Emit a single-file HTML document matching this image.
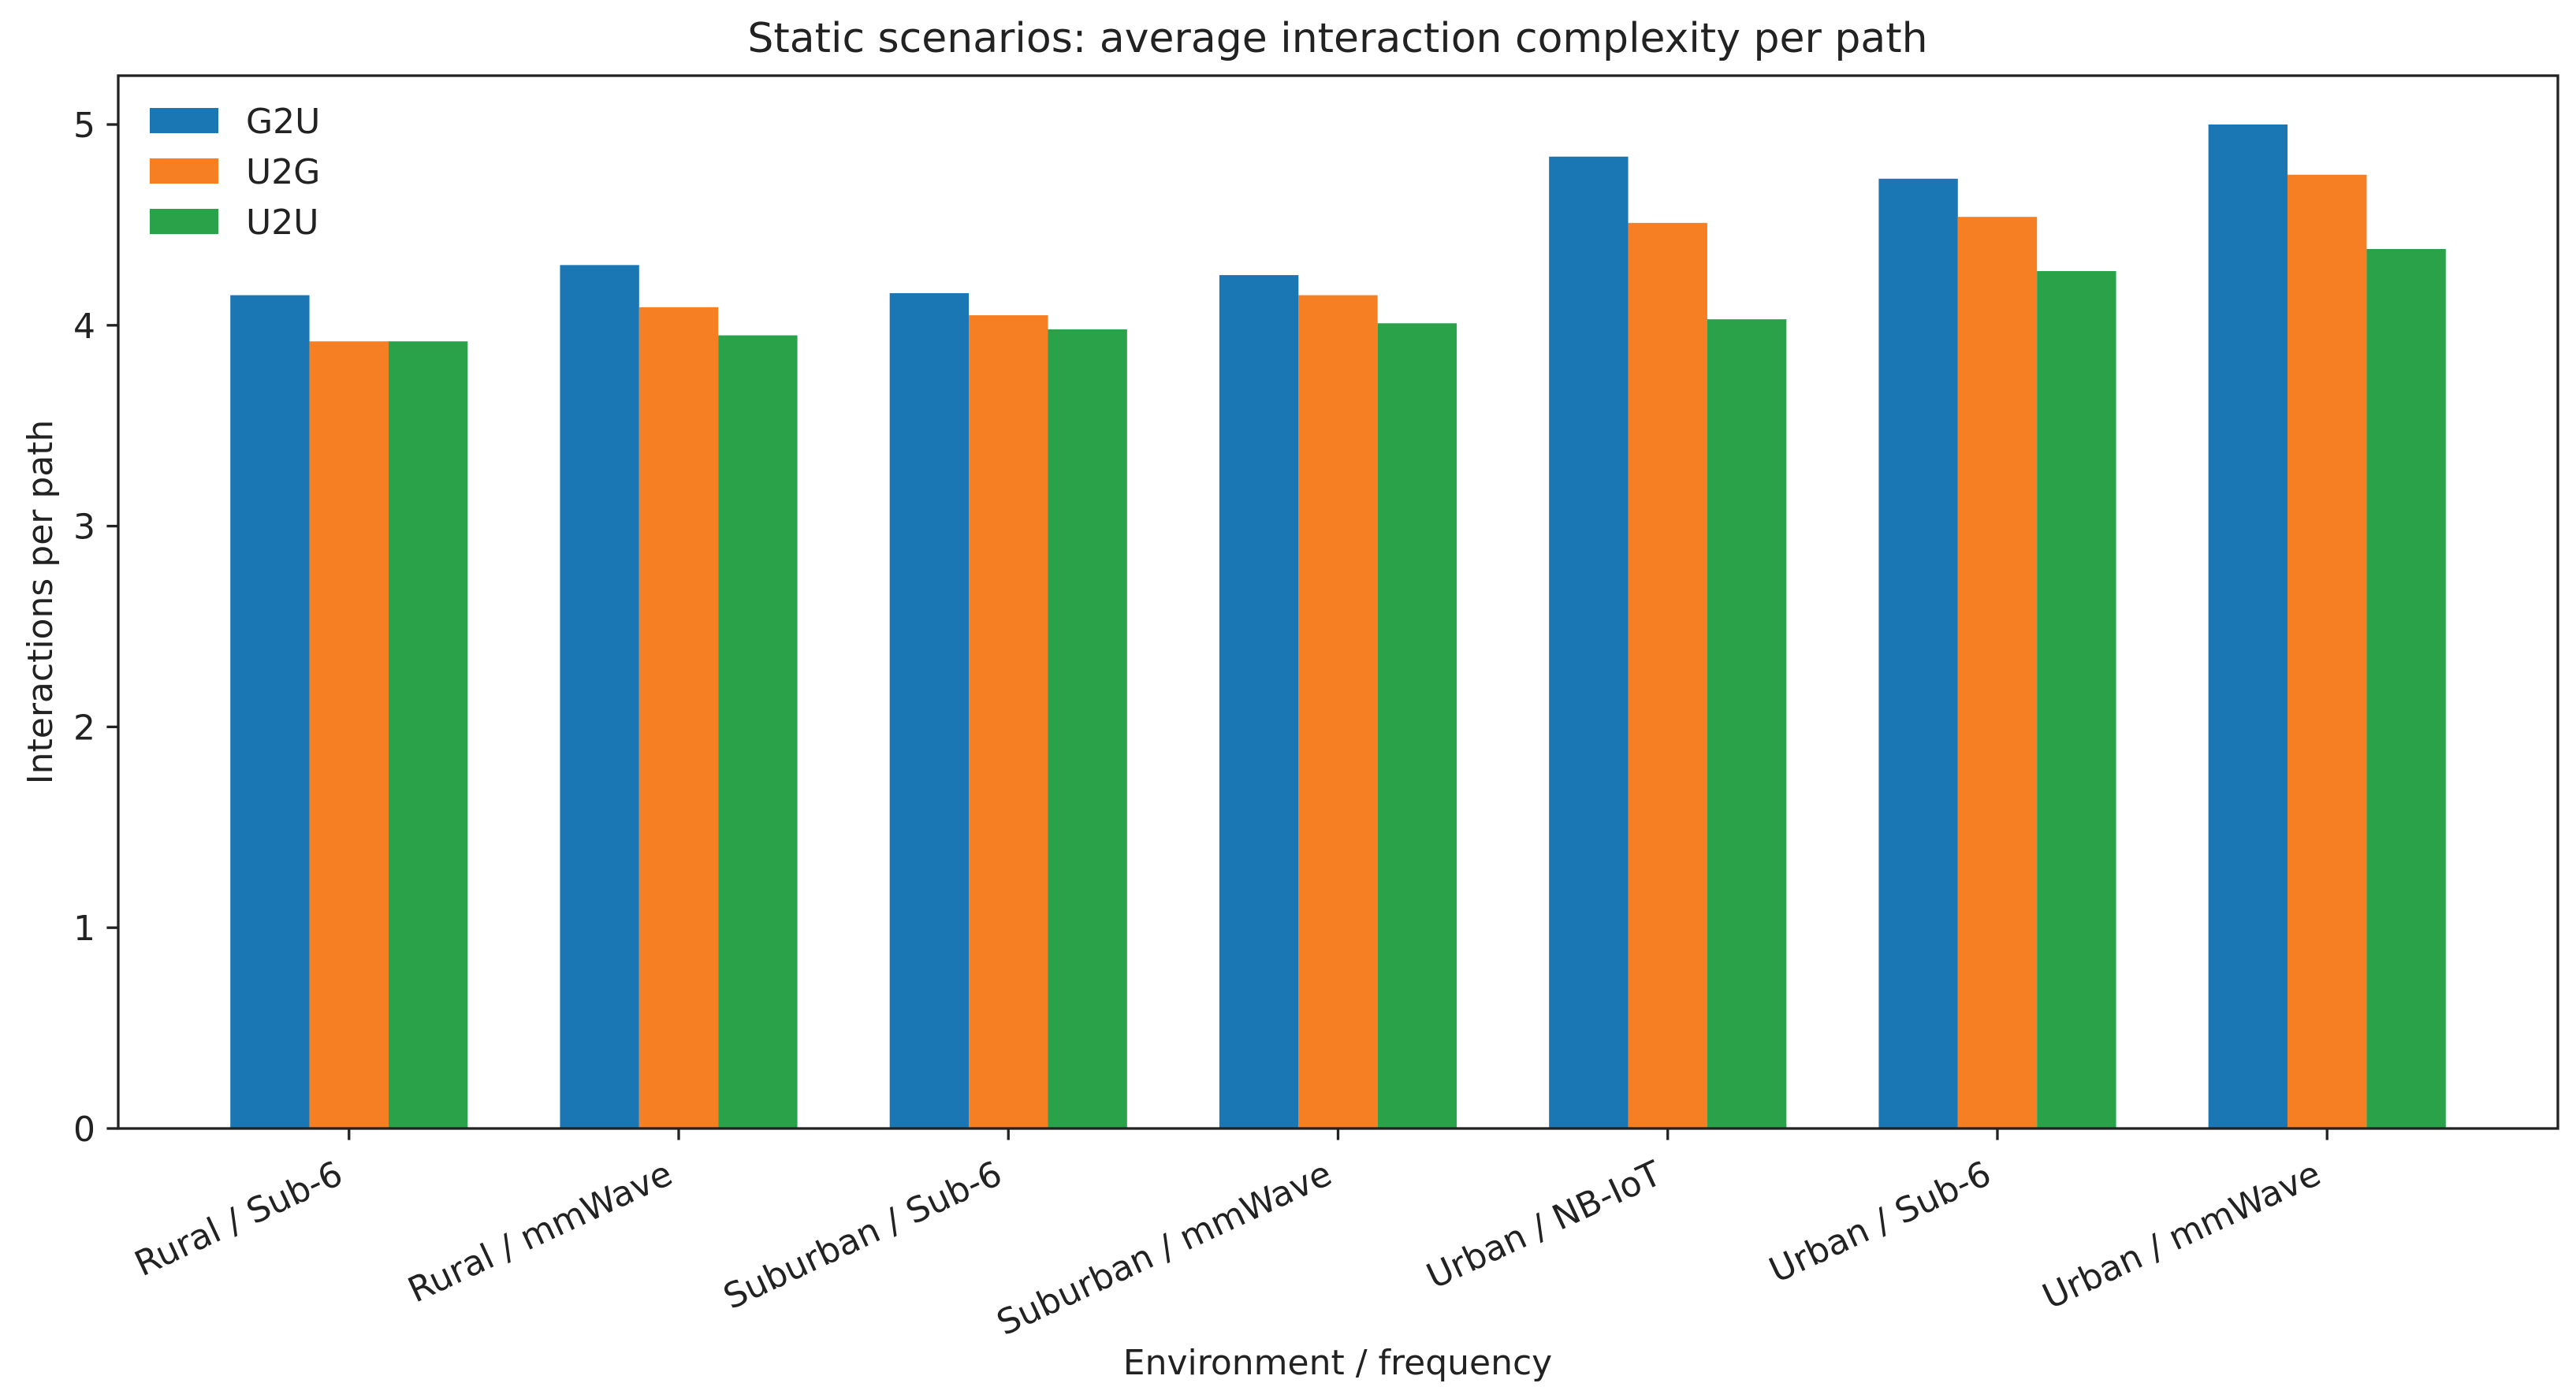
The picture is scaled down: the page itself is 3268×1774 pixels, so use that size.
<!DOCTYPE html>
<html><head><meta charset="utf-8"><style>html,body{margin:0;padding:0;background:#fff}svg{display:block}text{font-family:"DejaVu Sans","Liberation Sans",sans-serif;fill:#222}</style></head>
<body>
<svg id="chart" width="3268" height="1774" viewBox="0 0 3268 1774" xmlns="http://www.w3.org/2000/svg">
<rect width="3268" height="1774" fill="#fff"/>
<text x="1697" y="66" font-size="52" text-anchor="middle">Static scenarios: average interaction complexity per path</text>
<g id="bars"></g>
<g id="axes"></g>
<text x="1697" y="1744" font-size="44" text-anchor="middle">Environment / frequency</text>
<text transform="translate(66,764) rotate(-90)" font-size="44" text-anchor="middle">Interactions per path</text>
<g id="legend"></g>
</svg>
<script>
const categories = ["Rural / Sub-6","Rural / mmWave","Suburban / Sub-6","Suburban / mmWave","Urban / NB-IoT","Urban / Sub-6","Urban / mmWave"];
const seriesNames = ["G2U","U2G","U2U"];
const g2u = [4.15,4.30,4.16,4.25,4.84,4.73,5.00];
const u2g = [3.92,4.09,4.05,4.15,4.51,4.54,4.75];
const u2u = [3.92,3.95,3.98,4.01,4.03,4.27,4.38];
const yTicks = [0,1,2,3,4,5];

const NS="http://www.w3.org/2000/svg";
const colors=["#1a77b4","#f57f22","#2aa24a"];
const L=150,R=3245,T=96,B=1432;
const xmin=-0.7,xmax=categories.length-1+0.7;
const X=v=>L+(v-xmin)/(xmax-xmin)*(R-L);
const Y=v=>B-v/5*(B-158);
function mk(tag,attrs,parent){const e=document.createElementNS(NS,tag);for(const k in attrs)e.setAttribute(k,attrs[k]);parent.appendChild(e);return e;}
const barsG=document.getElementById('bars'),axG=document.getElementById('axes'),legG=document.getElementById('legend');
const series=[g2u,u2g,u2u];
const w=0.24;
series.forEach((vals,s)=>{
  vals.forEach((v,i)=>{
    const x0=X(i+(s-1)*w-w/2),x1=X(i+(s-1)*w+w/2);
    const r=mk('rect',{x:x0,y:Y(v),width:x1-x0,height:Y(0)-Y(v),fill:colors[s]},barsG);
    
    
  });
});
const frame=mk('rect',{x:L,y:T,width:R-L,height:B-T,fill:'none',stroke:'#222','stroke-width':3.3},axG);


yTicks.forEach(t=>{
  const y=Y(t);
  mk('line',{x1:L-14.6,x2:L,y1:y,y2:y,stroke:'#222','stroke-width':3.3},axG);
  const tx=mk('text',{x:L-29,y:y+16,'font-size':44,'text-anchor':'end'},axG);
  tx.textContent=t;
  
  
});
categories.forEach((c,i)=>{
  const x=X(i);
  mk('line',{x1:x,x2:x,y1:B,y2:B+14.6,stroke:'#222','stroke-width':3.3},axG);
  const tx=mk('text',{x:x-5,y:1500,'font-size':44,'text-anchor':'end',transform:`rotate(-25 ${x-5} 1500)`},axG);
  tx.textContent=c;
  
  
});
seriesNames.forEach((n,s)=>{
  const cy=153+s*64;
  const r=mk('rect',{x:190,y:cy-16,width:87,height:32,fill:colors[s]},legG);
  
  
  const tx=mk('text',{x:312,y:cy+16,'font-size':44},legG);
  tx.textContent=n;
  
  
});
</script>
</body></html>
